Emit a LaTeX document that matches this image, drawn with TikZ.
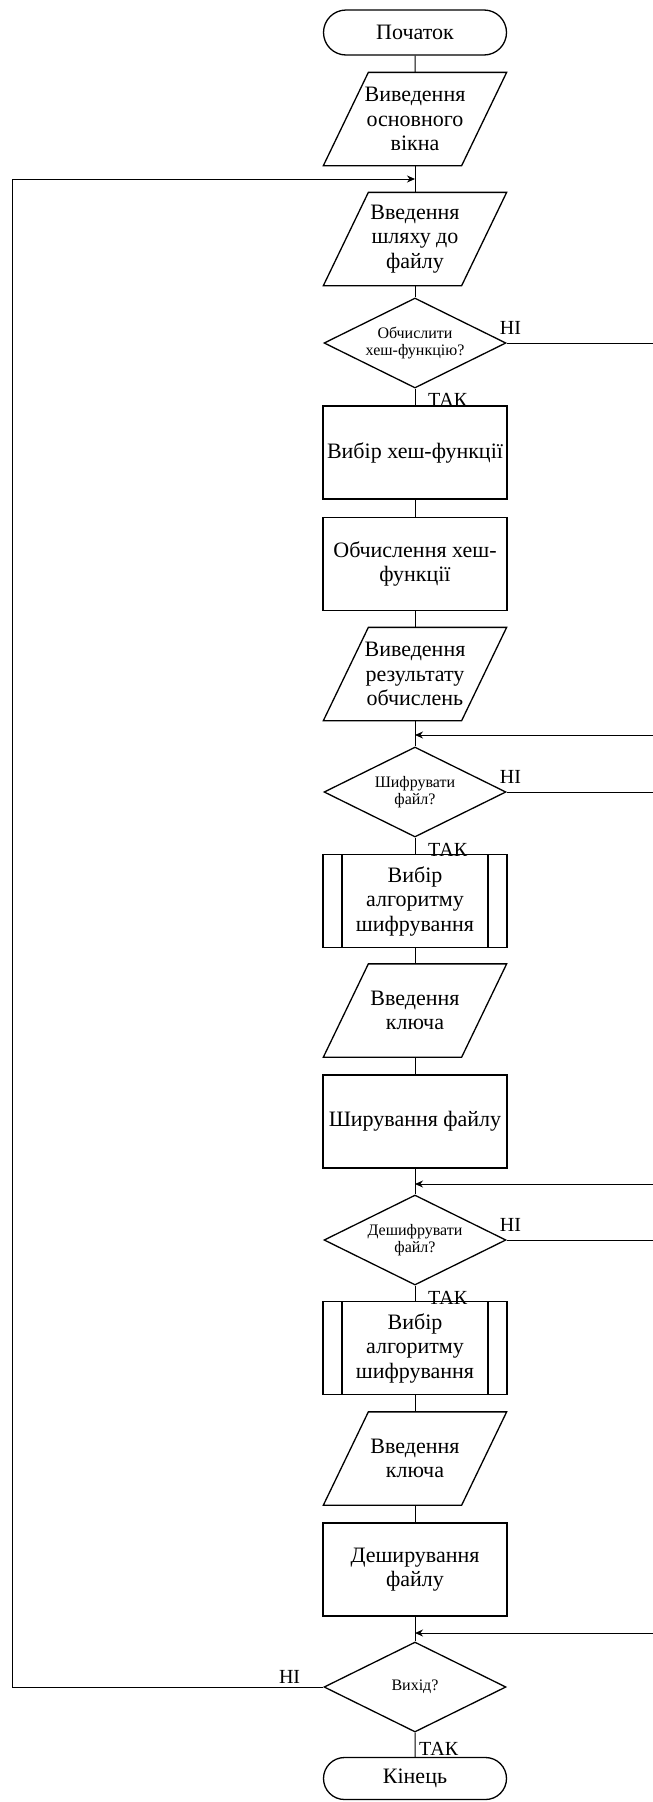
\documentclass[tikz,border=0pt]{standalone}
\usepackage{fontspec}
\setmainfont{Liberation Serif}
\usetikzlibrary{shapes.geometric,shapes.misc,arrows.meta}
\newcommand\ioframe[1]{\draw[ioline] ([xshift=45pt]#1.north west) -- (#1.north east) -- ([xshift=-45pt]#1.south east) -- (#1.south west) -- cycle;}
\begin{document}
\begin{tikzpicture}[x=1pt,y=-1pt,
 shp/.style={draw, line width=1.3pt, align=center, inner sep=0pt, font=\fontsize{22}{24.5}\selectfont},
 term/.style={shp, rounded rectangle, minimum width=183pt, minimum height=45pt},
 proc/.style={shp, rectangle, minimum width=184pt, minimum height=93pt},
 sub/.style={proc, path picture={\draw[line width=1.3pt] ([xshift=19pt]path picture bounding box.north west) -- ([xshift=19pt]path picture bounding box.south west) ([xshift=-19pt]path picture bounding box.north east) -- ([xshift=-19pt]path picture bounding box.south east);}},
 io/.style={shp, draw=none, rectangle, minimum width=182pt, minimum height=92pt},
 ioline/.style={line width=1.3pt, line join=miter},
 dec/.style={shp, diamond, minimum width=182pt, minimum height=90pt, aspect=2, font=\fontsize{16}{17}\selectfont},
 lbl/.style={inner sep=0pt, font=\fontsize{20}{22}\selectfont},
 con/.style={line width=1pt},
 arr/.style={con, -{Stealth[length=8pt,width=7pt]}}
]
\useasboundingbox (0,0) rectangle (653,1802);
\node[term] (start) at (415,32.5) {Початок};
\node[io] (p1) at (415,119) {Виведення\\основного\\вікна};
\coordinate (m1) at (415,179);
\node[io] (p2) at (415,239) {Введення\\шляху до\\файлу};
\node[dec] (d1) at (415,343) {Обчислити\\хеш-функцію?};
\node[proc] (r1) at (415,452.5) {Вибір хеш-функції};
\node[proc] (r2) at (415,564) {Обчислення хеш-\\функції};
\node[io] (p3) at (415,674) {Виведення\\результату\\обчислень};
\coordinate (m2) at (415,735);
\node[dec] (d2) at (415,792) {Шифрувати\\файл?};
\node[sub] (s1) at (415,901) {Вибір\\алгоритму\\шифрування};
\node[io] (p4) at (415,1010.5) {Введення\\ключа};
\node[proc] (r3) at (415,1121.5) {Ширування файлу};
\coordinate (m3) at (415,1184);
\node[dec] (d3) at (415,1240) {Дешифрувати\\файл?};
\node[sub] (s2) at (415,1348) {Вибір\\алгоритму\\шифрування};
\node[io] (p5) at (415,1458.5) {Введення\\ключа};
\node[proc] (r4) at (415,1569.5) {Деширування\\файлу};
\coordinate (m4) at (415,1633);
\node[dec] (d4) at (415,1687) {Вихід?};
\node[term, minimum height=42pt] (end) at (415,1778.5) {Кінець};

\ioframe{p1}
\ioframe{p2}
\ioframe{p3}
\ioframe{p4}
\ioframe{p5}

\coordinate (e1) at (653,343);
\coordinate (e2) at (653,735);
\coordinate (e3) at (653,792);
\coordinate (e4) at (653,1184);
\coordinate (e5) at (653,1240);
\coordinate (e6) at (653,1633);
\coordinate (l1) at (12,1687);
\coordinate (l2) at (12,179);

\draw[con] (start) -- (p1);
\draw[con] (p1) -- (p2);
\draw[con] (p2) -- (d1);
\draw[con] (d1) -- (r1);
\draw[con] (r1) -- (r2);
\draw[con] (r2) -- (p3);
\draw[con] (p3) -- (d2);
\draw[con] (d2) -- (s1);
\draw[con] (s1) -- (p4);
\draw[con] (p4) -- (r3);
\draw[con] (r3) -- (d3);
\draw[con] (d3) -- (s2);
\draw[con] (s2) -- (p5);
\draw[con] (p5) -- (r4);
\draw[con] (r4) -- (d4);
\draw[con] (d4) -- (end);

\draw[con] (d1.east) -- (e1);
\draw[arr] (e2) -- (m2);
\draw[con] (d2.east) -- (e3);
\draw[arr] (e4) -- (m3);
\draw[con] (d3.east) -- (e5);
\draw[arr] (e6) -- (m4);
\draw[arr] (d4.west) -- (l1) -- (l2) -- (m1);

\node[lbl, anchor=south west] (n1) at ([xshift=-7pt,yshift=8pt]d1.east) {НІ};
\node[lbl, anchor=south west] (n2) at ([xshift=-7pt,yshift=8pt]d2.east) {НІ};
\node[lbl, anchor=south west] (n3) at ([xshift=-7pt,yshift=8pt]d3.east) {НІ};
\node[lbl, anchor=south east] (n4) at ([xshift=-23pt,yshift=3pt]d4.west) {НІ};
\node[lbl, anchor=north west] (t1) at ([xshift=13pt,yshift=-4pt]d1.south) {ТАК};
\node[lbl, anchor=north west] (t2) at ([xshift=13pt,yshift=-5pt]d2.south) {ТАК};
\node[lbl, anchor=north west] (t3) at ([xshift=13pt,yshift=-5pt]d3.south) {ТАК};
\node[lbl, anchor=north west] (t4) at ([xshift=4pt,yshift=-9pt]d4.south) {ТАК};
\end{tikzpicture}
\end{document}
